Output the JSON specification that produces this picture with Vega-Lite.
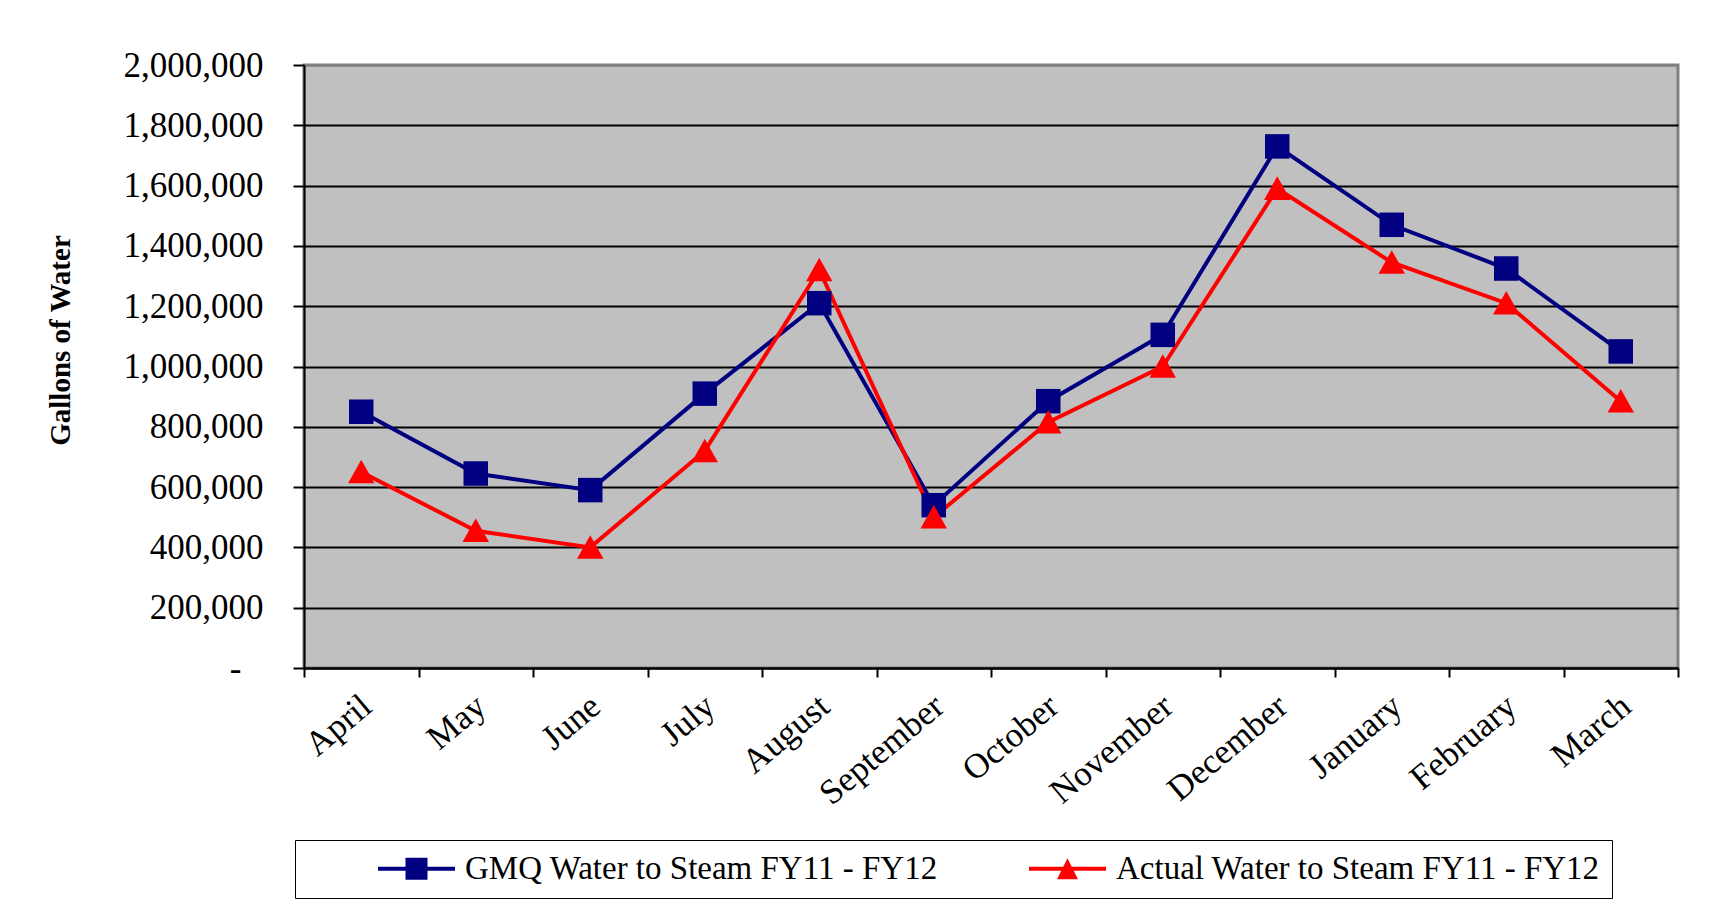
{
  "$schema": "https://vega.github.io/schema/vega-lite/v6.json",
  "width": 1374,
  "height": 603,
  "autosize": {"type": "none"},
  "padding": {"left": 304, "top": 65, "right": 37, "bottom": 240},
  "background": "white",
  "config": {
    "view": {"fill": "#C0C0C0", "stroke": "#808080", "strokeWidth": 3},
    "font": "Liberation Serif"
  },
  "data": {
    "values": [
      {"month": "April", "series": "GMQ Water to Steam FY11 - FY12", "value": 850000},
      {"month": "May", "series": "GMQ Water to Steam FY11 - FY12", "value": 645000},
      {"month": "June", "series": "GMQ Water to Steam FY11 - FY12", "value": 590000},
      {"month": "July", "series": "GMQ Water to Steam FY11 - FY12", "value": 910000},
      {"month": "August", "series": "GMQ Water to Steam FY11 - FY12", "value": 1210000},
      {"month": "September", "series": "GMQ Water to Steam FY11 - FY12", "value": 540000},
      {"month": "October", "series": "GMQ Water to Steam FY11 - FY12", "value": 885000},
      {"month": "November", "series": "GMQ Water to Steam FY11 - FY12", "value": 1105000},
      {"month": "December", "series": "GMQ Water to Steam FY11 - FY12", "value": 1730000},
      {"month": "January", "series": "GMQ Water to Steam FY11 - FY12", "value": 1470000},
      {"month": "February", "series": "GMQ Water to Steam FY11 - FY12", "value": 1325000},
      {"month": "March", "series": "GMQ Water to Steam FY11 - FY12", "value": 1050000},
      {"month": "April", "series": "Actual Water to Steam FY11 - FY12", "value": 650000},
      {"month": "May", "series": "Actual Water to Steam FY11 - FY12", "value": 455000},
      {"month": "June", "series": "Actual Water to Steam FY11 - FY12", "value": 400000},
      {"month": "July", "series": "Actual Water to Steam FY11 - FY12", "value": 720000},
      {"month": "August", "series": "Actual Water to Steam FY11 - FY12", "value": 1320000},
      {"month": "September", "series": "Actual Water to Steam FY11 - FY12", "value": 500000},
      {"month": "October", "series": "Actual Water to Steam FY11 - FY12", "value": 815000},
      {"month": "November", "series": "Actual Water to Steam FY11 - FY12", "value": 1000000},
      {"month": "December", "series": "Actual Water to Steam FY11 - FY12", "value": 1590000},
      {"month": "January", "series": "Actual Water to Steam FY11 - FY12", "value": 1345000},
      {"month": "February", "series": "Actual Water to Steam FY11 - FY12", "value": 1210000},
      {"month": "March", "series": "Actual Water to Steam FY11 - FY12", "value": 885000}
    ]
  },
  "encoding": {
    "x": {
      "field": "month",
      "type": "ordinal",
      "sort": ["April", "May", "June", "July", "August", "September", "October", "November", "December", "January", "February", "March"],
      "scale": {"type": "band", "paddingInner": 0, "paddingOuter": 0},
      "axis": {
        "title": null,
        "labelAngle": -40,
        "labelFont": "Liberation Serif",
        "labelFontSize": 35,
        "labelColor": "black",
        "labelPadding": 11,
        "labelOffset": -6,
        "tickBand": "extent",
        "tickColor": "black",
        "tickWidth": 2,
        "tickSize": 9,
        "domainColor": "black",
        "domainWidth": 2,
        "grid": false
      }
    },
    "y": {
      "field": "value",
      "type": "quantitative",
      "scale": {"domain": [0, 2000000], "nice": false},
      "axis": {
        "title": "Gallons of Water",
        "titleFont": "Liberation Serif",
        "titleFontSize": 29,
        "titleFontWeight": "bold",
        "titleColor": "black",
        "titleAngle": -90,
        "titleX": -244,
        "titleY": 275,
        "titleAlign": "center",
        "titleBaseline": "middle",
        "values": [0, 200000, 400000, 600000, 800000, 1000000, 1200000, 1400000, 1600000, 1800000, 2000000],
        "labelExpr": "datum.value == 0 ? '-' : format(datum.value, ',')",
        "labelFont": "Liberation Serif",
        "labelFontSize": 35,
        "labelColor": "black",
        "labelPadding": {"condition": {"test": "datum.value == 0", "value": 52}, "value": 30},
        "tickColor": "black",
        "tickWidth": 2,
        "tickSize": 11,
        "domainColor": "black",
        "domainWidth": 2,
        "grid": true,
        "gridColor": {"condition": {"test": "datum.value == 2000000", "value": "#808080"}, "value": "black"},
        "gridWidth": 2,
        "gridOpacity": 1
      }
    },
    "color": {
      "field": "series",
      "type": "nominal",
      "sort": ["GMQ Water to Steam FY11 - FY12", "Actual Water to Steam FY11 - FY12"],
      "scale": {
        "domain": ["GMQ Water to Steam FY11 - FY12", "Actual Water to Steam FY11 - FY12"],
        "range": ["#000080", "#FF0000"]
      },
      "legend": {
        "title": null,
        "orient": "none",
        "legendX": -9,
        "legendY": 775,
        "direction": "horizontal",
        "fillColor": "white",
        "strokeColor": "black",
        "padding": 12,
        "labelFont": "Liberation Serif",
        "labelFontSize": 33,
        "labelColor": "black",
        "labelLimit": 700,
        "symbolOffset": 93,
        "labelOffset": 32,
        "columnPadding": 20,
        "symbolSize": 484,
        "symbolStrokeWidth": 0
      }
    }
  },
  "layer": [
    {
      "mark": {"type": "line", "strokeWidth": 4}
    },
    {
      "transform": [{"filter": "datum.series === 'GMQ Water to Steam FY11 - FY12'"}],
      "mark": {"type": "point", "filled": true, "opacity": 1, "shape": "square", "size": 600}
    },
    {
      "transform": [{"filter": "datum.series === 'Actual Water to Steam FY11 - FY12'"}],
      "mark": {"type": "point", "filled": true, "opacity": 1, "shape": "M0,-1L1.08,0.92L-1.08,0.92Z", "size": 600}
    },
    {
      "transform": [{"filter": "false"}],
      "mark": {"type": "point", "filled": true, "opacity": 1, "size": 484},
      "encoding": {
        "shape": {
          "field": "series",
          "type": "nominal",
          "scale": {
            "domain": ["GMQ Water to Steam FY11 - FY12", "Actual Water to Steam FY11 - FY12"],
            "range": ["M-3.5,-0.18H3.5V0.18H-3.5Z M-1,-1H1V1H-1Z", "M-3.5,-0.18H3.5V0.18H-3.5Z M0,-0.95L0.95,0.95L-0.95,0.95Z"]
          }
        }
      }
    }
  ]
}
